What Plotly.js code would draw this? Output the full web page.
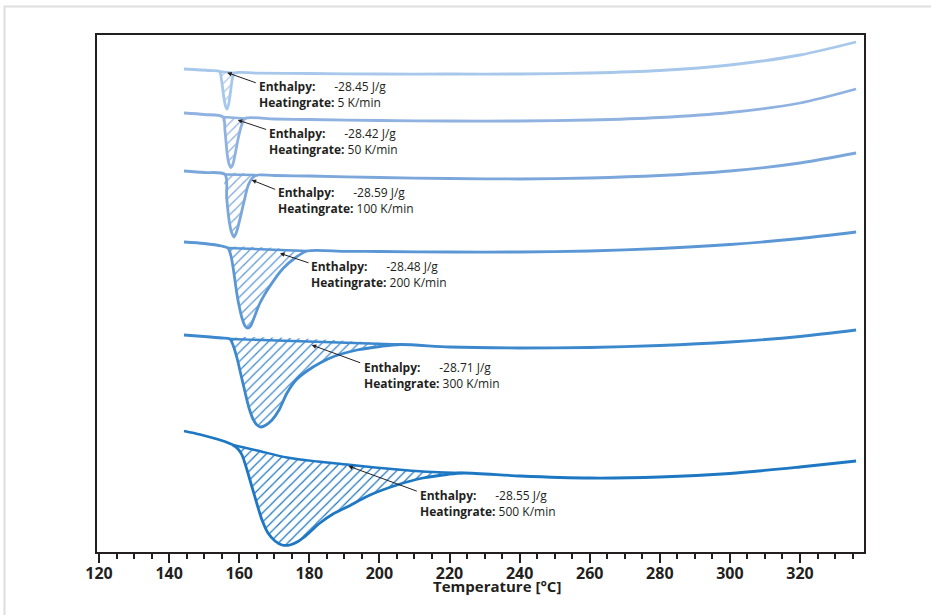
<!DOCTYPE html>
<html>
<head>
<meta charset="utf-8">
<script src="https://cdn.plot.ly/plotly-3.0.1.min.js"></script>
<style>
html,body{margin:0;padding:0;background:#fff;}
#chart{width:931px;height:615px;}
</style>
</head>
<body>
<div id="chart"></div>
<script>
// ---------------- DATA ----------------
const heatingRates = [5, 50, 100, 200, 300, 500];          // K/min
const enthalpies   = [-28.45, -28.42, -28.59, -28.48, -28.71, -28.55]; // J/g
const tickValues   = [120, 140, 160, 180, 200, 220, 240, 260, 280, 300, 320];
const tickLabels   = ['120','140','160','180','200','220','240','260','280','300','320'];
const xTitle       = 'Temperature [°C]';

// measured DSC curves: temperature (°C) and heat flow (arbitrary units, offset per curve)
const t5   = [144.25,151.67,154.38,154.95,155.52,156.09,156.52,156.95,157.52,158.09,158.66,165,180,200,220,240,260,280,300,320,336];
const hf5  = [48.3,48.15,48.05,47.2,45.7,44.6,44.3,44.7,46.0,47.4,47.9,47.88,47.85,47.8,47.8,47.8,47.9,48.15,48.7,49.7,51.0];
const t50  = [144.25,150,155.38,155.95,156.61,157.1,157.66,158.23,158.8,159.74,160.71,161.66,170,180,200,220,240,260,280,300,320,336];
const hf50 = [43.9,43.75,43.5,42.1,39.7,38.8,38.45,38.8,39.7,41.4,42.7,43.35,43.3,43.25,43.15,43.1,43.1,43.2,43.45,43.95,44.9,46.3];
const t100  = [144.25,150,155.95,156.43,157.18,157.8,158.52,159.23,160.03,161.37,162.6,164.02,165.36,170,180,200,220,240,260,280,300,320,336];
const hf100 = [38.1,37.95,37.75,35.4,33.03,32.0,31.5,32.0,33.03,35.03,36.7,37.5,37.7,37.65,37.6,37.45,37.35,37.3,37.4,37.65,38.1,38.9,39.9];
const t200  = [144.25,150,155,156.8,157.66,158.37,159.09,159.8,160.8,161.66,162.37,163.23,164.22,165.93,168.79,172.5,175.92,179.34,190,200,220,240,260,280,300,320,336];
const hf200 = [31.0,30.85,30.6,30.4,29.6,28.2,26.4,24.9,23.4,22.6,22.4,22.6,23.4,24.9,26.6,28.35,29.4,30.1,30.07,30.05,30.0,30.0,30.1,30.35,30.75,31.35,32.0];
const t300  = [144.25,150,155,157.38,158.23,159.37,160.51,161.66,162.8,163.94,165.08,166.22,167.65,169.36,171.36,173.64,176.21,179.34,183.05,187.33,193.61,200.17,205.88,220,240,260,280,300,320,336];
const hf300 = [21.7,21.55,21.4,21.3,20.7,19.4,17.7,16.0,14.4,13.3,12.7,12.5,12.7,13.2,14.2,15.9,17.2,18.1,18.9,19.6,20.2,20.55,20.75,20.5,20.4,20.45,20.65,21.0,21.55,22.2];
const t500  = [144.25,148.82,153.1,156.24,158.23,159.66,160.8,162.23,163.65,165.08,166.51,168.22,170.22,172.21,174.49,176.78,178.2,180.49,183.05,186.76,190.76,197.32,205.02,212.44,219.29,223.85,240.12,260.09,280,300,320,336];
const hf500 = [12.1,11.75,11.35,11.0,10.7,10.3,9.7,8.2,6.5,4.8,3.2,1.9,1.1,0.7,0.7,1.05,1.4,2.1,2.9,3.8,4.5,5.7,6.7,7.4,7.75,7.9,7.6,7.4,7.5,7.85,8.5,9.1];

// integration baselines (peak start -> peak end)
const bt5   = [154.38,158.66];  const bh5   = [48.05,47.9];
const bt50  = [155.38,161.66];  const bh50  = [43.5,43.35];
const bt100 = [155.95,165.36];  const bh100 = [37.75,37.7];
const bt200 = [156.8,179.34];   const bh200 = [30.4,30.1];
const bt300 = [157.38,205.88];  const bh300 = [21.3,20.75];
const bt500 = [158.23,165.08,173.64,182.2,190.76,198.75,206.74,215.3,223.85];
const bh500 = [10.7,10.15,9.45,9.05,8.75,8.45,8.2,8.0,7.9];

// ---------------- STYLE / POSITIONS ----------------
const colors = ['#a8c8eb','#8fb2e0','#7ca7db','#5b97d4','#3c88cd','#1d77c2'];
const arrowTip  = [[156.58,47.93],[159.57,43.2],[163.57,37.2],[171.64,29.87],[180.69,20.7],[191.13,8.6]];
const arrowTail = [[165.17,46.87],[168.13,42.2],[170.7,36.2],[180.2,28.87],[194.95,18.87],[211.1,6.03]];
const labelX  = [165.0,168.05,170.4,179.95,194.95,211.05];
const labelY  = [45.75,41.03,35.17,27.73,17.65,4.9];

const series = [
  {t:t5,hf:hf5,bt:bt5,bh:bh5},
  {t:t50,hf:hf50,bt:bt50,bh:bh50},
  {t:t100,hf:hf100,bt:bt100,bh:bh100},
  {t:t200,hf:hf200,bt:bt200,bh:bh200},
  {t:t300,hf:hf300,bt:bt300,bh:bh300},
  {t:t500,hf:hf500,bt:bt500,bh:bh500}
];

const traces = [];
series.forEach((s,i)=>{
  const a = s.bt[0], b = s.bt[s.bt.length-1];
  const px = [], py = [];
  s.t.forEach((t,j)=>{ if(t >= a-1e-9 && t <= b+1e-9){ px.push(t); py.push(s.hf[j]); } });
  for(let j=s.bt.length-1;j>=0;j--){ px.push(s.bt[j]); py.push(s.bh[j]); }
  traces.push({
    x:px, y:py, type:'scatter', mode:'lines',
    line:{width:0, color:colors[i], shape:'spline', smoothing:0.8},
    fill:'toself', fillcolor:'rgba(255,255,255,0)',
    fillpattern:{shape:'/', fgcolor:colors[i], bgcolor:'rgba(255,255,255,0)', size:6.5, solidity:0.2},
    hoverinfo:'skip', showlegend:false
  });
});
series.forEach((s,i)=>{
  traces.push({x:s.bt, y:s.bh, type:'scatter', mode:'lines',
    line:{color:colors[i], width:2.4, shape:'spline', smoothing:0.8}, showlegend:false, hoverinfo:'skip'});
  traces.push({x:s.t, y:s.hf, type:'scatter', mode:'lines',
    line:{color:colors[i], width:2.8, shape:'spline', smoothing:0.8}, showlegend:false,
    name: heatingRates[i]+' K/min'});
});

const txtFont = {family:'Open Sans', size:12, color:'#231f20'};
const NB = '\u00a0';
const annotations = [];
heatingRates.forEach((r,i)=>{
  annotations.push({x:arrowTip[i][0], y:arrowTip[i][1], xref:'x', yref:'y',
    ax:arrowTail[i][0], ay:arrowTail[i][1], axref:'x', ayref:'y',
    text:'', showarrow:true, arrowhead:2, arrowsize:0.9, arrowwidth:1, arrowcolor:'#231f20'});
  annotations.push({x:labelX[i], y:labelY[i], xref:'x', yref:'y',
    text:'<b>Enthalpy:</b>' + NB.repeat(6) + enthalpies[i].toFixed(2) + ' J/g<br><b>Heatingrate:</b> ' + r + ' K/min',
    align:'left', showarrow:false, xanchor:'left', yanchor:'middle', font:txtFont});
});
annotations.push({x:0.5215, y:-0.0658, xref:'paper', yref:'paper', text:'<b>'+xTitle+'</b>',
  showarrow:false, xanchor:'center', yanchor:'middle',
  font:{family:'Open Sans', size:15, color:'#231f20'}});

const layout = {
  width:931, height:615,
  margin:{l:97, r:67, t:35, b:63},
  paper_bgcolor:'#ffffff', plot_bgcolor:'#ffffff',
  showlegend:false,
  xaxis:{
    range:[119.43, 338.26], showline:true, linewidth:2, linecolor:'#231f20', mirror:true,
    ticks:'outside', ticklen:9, tickwidth:2, tickcolor:'#231f20',
    tickvals:tickValues, ticktext:tickLabels, ticklabelstandoff:-3,
    tickfont:{family:'Open Sans', size:16, weight:'bold', color:'#231f20'},
    showgrid:false, zeroline:false,
    minor:{dtick:5, tick0:120, ticks:'outside', ticklen:5, tickwidth:2, tickcolor:'#231f20', showgrid:false}
  },
  yaxis:{
    range:[0, 51.7], showline:true, linewidth:2, linecolor:'#231f20', mirror:true,
    ticks:'', showticklabels:false, showgrid:false, zeroline:false
  },
  annotations:annotations,
  shapes:[{type:'rect', xref:'paper', yref:'paper', x0:-0.1206, x1:1.3, y0:-0.3, y1:1.0551,
    line:{color:'#dedede', width:2}, fillcolor:'rgba(0,0,0,0)', layer:'below'}]
};

Plotly.newPlot('chart', traces, layout, {displayModeBar:false, staticPlot:true});
</script>
</body>
</html>
